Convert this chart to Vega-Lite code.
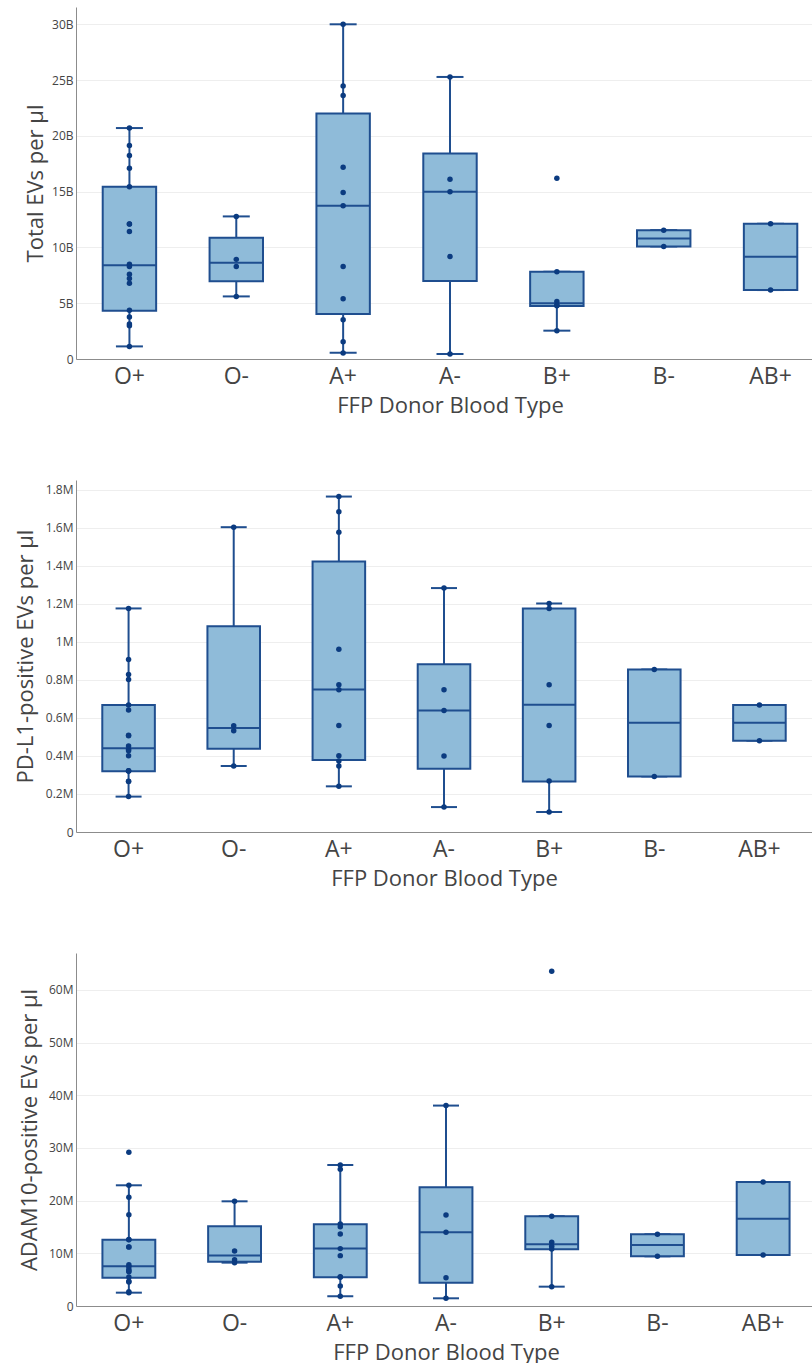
{
  "$schema": "https://vega.github.io/schema/vega-lite/v6.json",
  "padding": {"left": 14, "top": 7, "right": 0, "bottom": 0},
  "spacing": 64,
  "config": {
    "font": "Open Sans",
    "view": {"stroke": null},
    "axis": {"labelColor": "#444", "titleColor": "#444", "titleFontWeight": "normal", "ticks": false, "domainColor": "#8c8c8c", "domainWidth": 1, "gridColor": "#eeeeee"},
    "axisX": {"labelAngle": 0, "labelFontSize": 23, "labelPadding": 6, "titleFontSize": 22, "titlePadding": 7, "grid": false},
    "axisY": {"labelFontSize": 12, "labelPadding": 3, "titleFontSize": 22, "titlePadding": 4, "grid": true, "labelOverlap": false, "tickCount": 12}
  },
  "datasets": {
    "t_box": [
      {"type": "O+", "lower": 1.13e9, "q1": 4.33e9, "median": 8.4e9, "q3": 15.43e9, "upper": 20.7e9},
      {"type": "O-", "lower": 5.61e9, "q1": 6.96e9, "median": 8.63e9, "q3": 10.87e9, "upper": 12.78e9},
      {"type": "A+", "lower": 0.56e9, "q1": 4.03e9, "median": 13.73e9, "q3": 22.0e9, "upper": 30.0e9},
      {"type": "A-", "lower": 0.45e9, "q1": 6.99e9, "median": 14.99e9, "q3": 18.42e9, "upper": 25.28e9},
      {"type": "B+", "lower": 2.54e9, "q1": 4.75e9, "median": 4.99e9, "q3": 7.82e9, "upper": 7.82e9},
      {"type": "B-", "lower": 10.09e9, "q1": 10.09e9, "median": 10.81e9, "q3": 11.55e9, "upper": 11.55e9},
      {"type": "AB+", "lower": 6.18e9, "q1": 6.18e9, "median": 9.16e9, "q3": 12.12e9, "upper": 12.12e9}
    ],
    "t_pts": [
      {"type": "O+", "value": 20.7e9}, {"type": "O+", "value": 19.13e9}, {"type": "O+", "value": 18.24e9},
      {"type": "O+", "value": 17.1e9}, {"type": "O+", "value": 15.43e9}, {"type": "O+", "value": 12.1e9},
      {"type": "O+", "value": 12.09e9}, {"type": "O+", "value": 11.43e9}, {"type": "O+", "value": 8.5e9},
      {"type": "O+", "value": 8.3e9}, {"type": "O+", "value": 7.6e9}, {"type": "O+", "value": 7.22e9},
      {"type": "O+", "value": 6.78e9}, {"type": "O+", "value": 4.36e9}, {"type": "O+", "value": 3.76e9},
      {"type": "O+", "value": 3.13e9}, {"type": "O+", "value": 2.99e9}, {"type": "O+", "value": 1.13e9},
      {"type": "O-", "value": 12.78e9}, {"type": "O-", "value": 8.93e9}, {"type": "O-", "value": 8.3e9}, {"type": "O-", "value": 5.61e9},
      {"type": "A+", "value": 30.0e9}, {"type": "A+", "value": 24.48e9}, {"type": "A+", "value": 23.61e9},
      {"type": "A+", "value": 17.19e9}, {"type": "A+", "value": 14.93e9}, {"type": "A+", "value": 13.73e9},
      {"type": "A+", "value": 8.3e9}, {"type": "A+", "value": 5.4e9}, {"type": "A+", "value": 3.52e9},
      {"type": "A+", "value": 1.55e9}, {"type": "A+", "value": 0.54e9},
      {"type": "A-", "value": 25.28e9}, {"type": "A-", "value": 16.12e9}, {"type": "A-", "value": 14.99e9},
      {"type": "A-", "value": 9.19e9}, {"type": "A-", "value": 0.45e9},
      {"type": "B+", "value": 16.21e9}, {"type": "B+", "value": 7.82e9}, {"type": "B+", "value": 5.16e9},
      {"type": "B+", "value": 4.81e9}, {"type": "B+", "value": 4.78e9}, {"type": "B+", "value": 2.54e9},
      {"type": "B-", "value": 11.55e9}, {"type": "B-", "value": 10.09e9},
      {"type": "AB+", "value": 12.12e9}, {"type": "AB+", "value": 6.18e9}
    ],
    "p_box": [
      {"type": "O+", "lower": 186000, "q1": 319000, "median": 440000, "q3": 667000, "upper": 1175000},
      {"type": "O-", "lower": 347000, "q1": 438000, "median": 546000, "q3": 1082000, "upper": 1602000},
      {"type": "A+", "lower": 240000, "q1": 378000, "median": 749000, "q3": 1422000, "upper": 1763000},
      {"type": "A-", "lower": 131000, "q1": 333000, "median": 639000, "q3": 881000, "upper": 1282000},
      {"type": "B+", "lower": 105000, "q1": 266000, "median": 669000, "q3": 1175000, "upper": 1201000},
      {"type": "B-", "lower": 292000, "q1": 292000, "median": 574000, "q3": 854000, "upper": 854000},
      {"type": "AB+", "lower": 480000, "q1": 480000, "median": 574000, "q3": 667000, "upper": 667000}
    ],
    "p_pts": [
      {"type": "O+", "value": 1175000}, {"type": "O+", "value": 907000}, {"type": "O+", "value": 828000},
      {"type": "O+", "value": 802000}, {"type": "O+", "value": 667000}, {"type": "O+", "value": 641000},
      {"type": "O+", "value": 508000}, {"type": "O+", "value": 506000}, {"type": "O+", "value": 452000},
      {"type": "O+", "value": 434000}, {"type": "O+", "value": 427000}, {"type": "O+", "value": 401000},
      {"type": "O+", "value": 322000}, {"type": "O+", "value": 321000}, {"type": "O+", "value": 320000},
      {"type": "O+", "value": 267000}, {"type": "O+", "value": 266000}, {"type": "O+", "value": 187000},
      {"type": "O-", "value": 1602000}, {"type": "O-", "value": 559000}, {"type": "O-", "value": 532000}, {"type": "O-", "value": 347000},
      {"type": "A+", "value": 1763000}, {"type": "A+", "value": 1683000}, {"type": "A+", "value": 1576000},
      {"type": "A+", "value": 961000}, {"type": "A+", "value": 774000}, {"type": "A+", "value": 748000},
      {"type": "A+", "value": 560000}, {"type": "A+", "value": 401000}, {"type": "A+", "value": 373000},
      {"type": "A+", "value": 347000}, {"type": "A+", "value": 240000},
      {"type": "A-", "value": 1282000}, {"type": "A-", "value": 748000}, {"type": "A-", "value": 639000},
      {"type": "A-", "value": 399000}, {"type": "A-", "value": 131000},
      {"type": "B+", "value": 1201000}, {"type": "B+", "value": 1175000}, {"type": "B+", "value": 774000},
      {"type": "B+", "value": 560000}, {"type": "B+", "value": 268000}, {"type": "B+", "value": 105000},
      {"type": "B-", "value": 854000}, {"type": "B-", "value": 292000},
      {"type": "AB+", "value": 667000}, {"type": "AB+", "value": 480000}
    ],
    "a_box": [
      {"type": "O+", "lower": 2.53e6, "q1": 5.38e6, "median": 7.53e6, "q3": 12.59e6, "upper": 22.91e6},
      {"type": "O-", "lower": 8.23e6, "q1": 8.42e6, "median": 9.6e6, "q3": 15.13e6, "upper": 19.87e6},
      {"type": "A+", "lower": 1.84e6, "q1": 5.44e6, "median": 10.92e6, "q3": 15.5e6, "upper": 26.77e6},
      {"type": "A-", "lower": 1.46e6, "q1": 4.43e6, "median": 13.99e6, "q3": 22.53e6, "upper": 38.04e6},
      {"type": "B+", "lower": 3.67e6, "q1": 10.75e6, "median": 11.7e6, "q3": 17.03e6, "upper": 17.03e6},
      {"type": "B-", "lower": 9.43e6, "q1": 9.43e6, "median": 11.58e6, "q3": 13.61e6, "upper": 13.61e6},
      {"type": "AB+", "lower": 9.68e6, "q1": 9.68e6, "median": 16.58e6, "q3": 23.54e6, "upper": 23.54e6}
    ],
    "a_pts": [
      {"type": "O+", "value": 29.18e6}, {"type": "O+", "value": 22.91e6}, {"type": "O+", "value": 20.63e6},
      {"type": "O+", "value": 17.34e6}, {"type": "O+", "value": 12.62e6}, {"type": "O+", "value": 12.59e6},
      {"type": "O+", "value": 11.22e6}, {"type": "O+", "value": 11.2e6}, {"type": "O+", "value": 7.85e6},
      {"type": "O+", "value": 7.47e6}, {"type": "O+", "value": 6.95e6}, {"type": "O+", "value": 6.65e6},
      {"type": "O+", "value": 6.52e6}, {"type": "O+", "value": 5.51e6}, {"type": "O+", "value": 4.68e6},
      {"type": "O+", "value": 4.56e6}, {"type": "O+", "value": 2.72e6}, {"type": "O+", "value": 2.53e6},
      {"type": "O-", "value": 19.87e6}, {"type": "O-", "value": 10.44e6}, {"type": "O-", "value": 8.8e6}, {"type": "O-", "value": 8.23e6},
      {"type": "A+", "value": 26.77e6}, {"type": "A+", "value": 25.95e6}, {"type": "A+", "value": 15.57e6},
      {"type": "A+", "value": 15.06e6}, {"type": "A+", "value": 13.67e6}, {"type": "A+", "value": 10.89e6},
      {"type": "A+", "value": 9.56e6}, {"type": "A+", "value": 5.57e6}, {"type": "A+", "value": 5.44e6},
      {"type": "A+", "value": 3.8e6}, {"type": "A+", "value": 1.84e6},
      {"type": "A-", "value": 38.04e6}, {"type": "A-", "value": 17.28e6}, {"type": "A-", "value": 13.99e6},
      {"type": "A-", "value": 5.38e6}, {"type": "A-", "value": 1.46e6},
      {"type": "B+", "value": 63.54e6}, {"type": "B+", "value": 17.03e6}, {"type": "B+", "value": 12.1e6},
      {"type": "B+", "value": 11.35e6}, {"type": "B+", "value": 10.8e6}, {"type": "B+", "value": 3.67e6},
      {"type": "B-", "value": 13.61e6}, {"type": "B-", "value": 9.43e6},
      {"type": "AB+", "value": 23.54e6}, {"type": "AB+", "value": 9.68e6}
    ]
  },
  "vconcat": [
    {
      "width": 748, "height": 352,
      "encoding": {
        "x": {"field": "type", "type": "nominal", "sort": ["O+", "O-", "A+", "A-", "B+", "B-", "AB+"],
              "scale": {"paddingInner": 0, "paddingOuter": 0},
              "axis": {"title": "FFP Donor Blood Type"}}
      },
      "layer": [
        {"data": {"name": "t_box"}, "mark": {"type": "rule", "color": "#1f4e8f", "strokeWidth": 2},
         "encoding": {"y": {"field": "lower", "type": "quantitative", "scale": {"domain": [0, 31.55e9], "nice": false},
                            "axis": {"title": "Total EVs per μl", "values": [0, 5e9, 10e9, 15e9, 20e9, 25e9, 30e9],
                                     "labelExpr": "datum.value == 0 ? '0' : format(datum.value / 1e9, '~g') + 'B'"}},
                      "y2": {"field": "q1"}}},
        {"data": {"name": "t_box"}, "mark": {"type": "rule", "color": "#1f4e8f", "strokeWidth": 2},
         "encoding": {"y": {"field": "q3", "type": "quantitative"}, "y2": {"field": "upper"}}},
        {"data": {"name": "t_box"}, "mark": {"type": "tick", "color": "#1f4e8f", "thickness": 2, "size": 27, "opacity": 1},
         "encoding": {"y": {"field": "lower", "type": "quantitative"}}},
        {"data": {"name": "t_box"}, "mark": {"type": "tick", "color": "#1f4e8f", "thickness": 2, "size": 27, "opacity": 1},
         "encoding": {"y": {"field": "upper", "type": "quantitative"}}},
        {"data": {"name": "t_box"}, "mark": {"type": "bar", "fill": "#8fbbd9", "stroke": "#1f4e8f", "strokeWidth": 2, "width": {"band": 0.5}},
         "encoding": {"y": {"field": "q1", "type": "quantitative"}, "y2": {"field": "q3"}}},
        {"data": {"name": "t_box"}, "mark": {"type": "tick", "color": "#1f4e8f", "thickness": 2, "size": 53, "opacity": 1},
         "encoding": {"y": {"field": "median", "type": "quantitative"}}},
        {"data": {"name": "t_pts"}, "mark": {"type": "circle", "color": "#0b3b80", "size": 30, "opacity": 1},
         "encoding": {"y": {"field": "value", "type": "quantitative"}}}
      ]
    },
    {
      "width": 736, "height": 352,
      "encoding": {
        "x": {"field": "type", "type": "nominal", "sort": ["O+", "O-", "A+", "A-", "B+", "B-", "AB+"],
              "scale": {"paddingInner": 0, "paddingOuter": 0},
              "axis": {"title": "FFP Donor Blood Type"}}
      },
      "layer": [
        {"data": {"name": "p_box"}, "mark": {"type": "rule", "color": "#1f4e8f", "strokeWidth": 2},
         "encoding": {"y": {"field": "lower", "type": "quantitative", "scale": {"domain": [0, 1.85e6], "nice": false},
                            "axis": {"title": "PD-L1-positive EVs per μl", "titlePadding": 8, "tickCount": 12,
                                     "values": [0, 200000, 400000, 600000, 800000, 1000000, 1200000, 1400000, 1600000, 1800000],
                                     "labelExpr": "datum.value == 0 ? '0' : format(datum.value / 1e6, '~g') + 'M'"}},
                      "y2": {"field": "q1"}}},
        {"data": {"name": "p_box"}, "mark": {"type": "rule", "color": "#1f4e8f", "strokeWidth": 2},
         "encoding": {"y": {"field": "q3", "type": "quantitative"}, "y2": {"field": "upper"}}},
        {"data": {"name": "p_box"}, "mark": {"type": "tick", "color": "#1f4e8f", "thickness": 2, "size": 26, "opacity": 1},
         "encoding": {"y": {"field": "lower", "type": "quantitative"}}},
        {"data": {"name": "p_box"}, "mark": {"type": "tick", "color": "#1f4e8f", "thickness": 2, "size": 26, "opacity": 1},
         "encoding": {"y": {"field": "upper", "type": "quantitative"}}},
        {"data": {"name": "p_box"}, "mark": {"type": "bar", "fill": "#8fbbd9", "stroke": "#1f4e8f", "strokeWidth": 2, "width": {"band": 0.5}},
         "encoding": {"y": {"field": "q1", "type": "quantitative"}, "y2": {"field": "q3"}}},
        {"data": {"name": "p_box"}, "mark": {"type": "tick", "color": "#1f4e8f", "thickness": 2, "size": 52, "opacity": 1},
         "encoding": {"y": {"field": "median", "type": "quantitative"}}},
        {"data": {"name": "p_pts"}, "mark": {"type": "circle", "color": "#0b3b80", "size": 30, "opacity": 1},
         "encoding": {"y": {"field": "value", "type": "quantitative"}}}
      ]
    },
    {
      "width": 740, "height": 353,
      "encoding": {
        "x": {"field": "type", "type": "nominal", "sort": ["O+", "O-", "A+", "A-", "B+", "B-", "AB+"],
              "scale": {"paddingInner": 0, "paddingOuter": 0},
              "axis": {"title": "FFP Donor Blood Type"}}
      },
      "layer": [
        {"data": {"name": "a_box"}, "mark": {"type": "rule", "color": "#1f4e8f", "strokeWidth": 2},
         "encoding": {"y": {"field": "lower", "type": "quantitative", "scale": {"domain": [0, 67e6], "nice": false},
                            "axis": {"title": "ADAM10-positive EVs per μl", "titlePadding": 7, "values": [0, 10e6, 20e6, 30e6, 40e6, 50e6, 60e6],
                                     "labelExpr": "datum.value == 0 ? '0' : format(datum.value / 1e6, '~g') + 'M'"}},
                      "y2": {"field": "q1"}}},
        {"data": {"name": "a_box"}, "mark": {"type": "rule", "color": "#1f4e8f", "strokeWidth": 2},
         "encoding": {"y": {"field": "q3", "type": "quantitative"}, "y2": {"field": "upper"}}},
        {"data": {"name": "a_box"}, "mark": {"type": "tick", "color": "#1f4e8f", "thickness": 2, "size": 26, "opacity": 1},
         "encoding": {"y": {"field": "lower", "type": "quantitative"}}},
        {"data": {"name": "a_box"}, "mark": {"type": "tick", "color": "#1f4e8f", "thickness": 2, "size": 26, "opacity": 1},
         "encoding": {"y": {"field": "upper", "type": "quantitative"}}},
        {"data": {"name": "a_box"}, "mark": {"type": "bar", "fill": "#8fbbd9", "stroke": "#1f4e8f", "strokeWidth": 2, "width": {"band": 0.5}},
         "encoding": {"y": {"field": "q1", "type": "quantitative"}, "y2": {"field": "q3"}}},
        {"data": {"name": "a_box"}, "mark": {"type": "tick", "color": "#1f4e8f", "thickness": 2, "size": 53, "opacity": 1},
         "encoding": {"y": {"field": "median", "type": "quantitative"}}},
        {"data": {"name": "a_pts"}, "mark": {"type": "circle", "color": "#0b3b80", "size": 30, "opacity": 1},
         "encoding": {"y": {"field": "value", "type": "quantitative"}}}
      ]
    }
  ]
}
